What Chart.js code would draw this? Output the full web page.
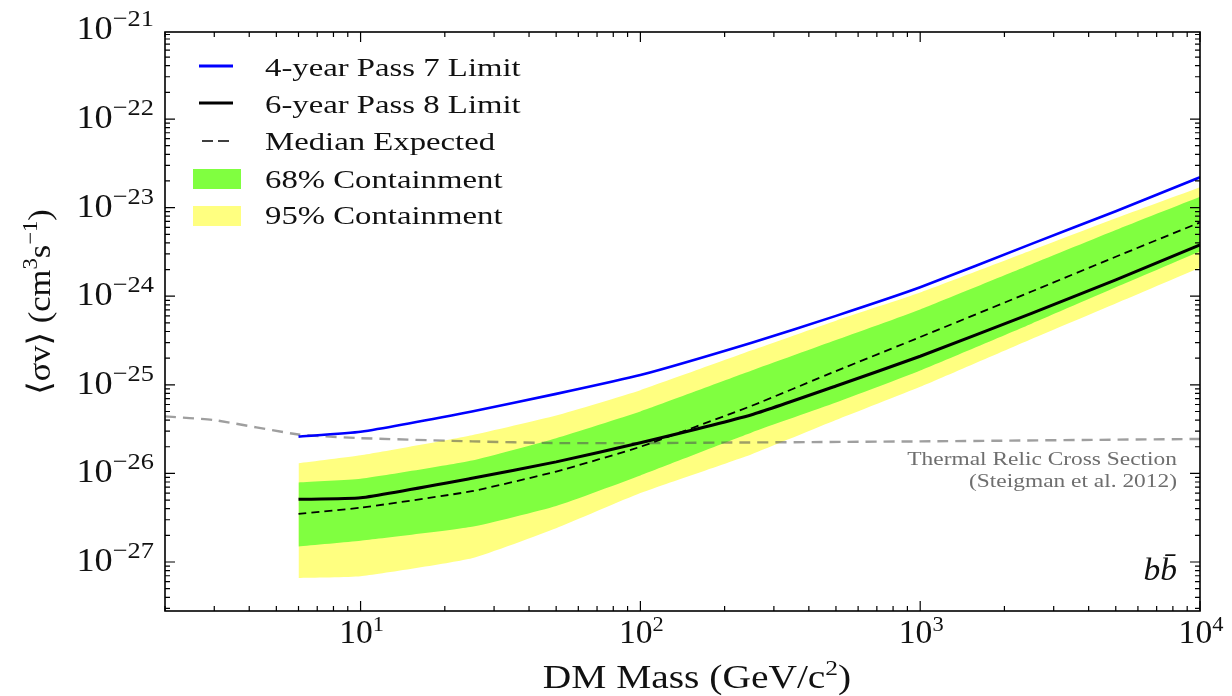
<!DOCTYPE html>
<html>
<head>
<meta charset="utf-8">
<script src="https://cdn.jsdelivr.net/npm/chart.js@4.4.1/dist/chart.umd.min.js"></script>
<style>
  html, body { margin: 0; padding: 0; background: #fff; }
</style>
</head>
<body>
<canvas id="limitChart" width="1232" height="696"></canvas>
<script>
// values (DM mass in GeV, <sigma v> in cm^3 s^-1)
const masses = [6, 10, 25, 50, 100, 250, 500, 1000, 2500, 5000, 10000];
const pass7Limit = [2.6e-26, 2.95e-26, 5.0e-26, 7.9e-26, 1.29e-25, 2.99e-25, 6.0e-25, 1.26e-24, 3.9e-24, 9.1e-24, 2.2e-23];
const pass8Limit = [5.1e-27, 5.3e-27, 8.8e-27, 1.35e-26, 2.22e-26, 4.6e-26, 9.7e-26, 2.1e-25, 6.4e-25, 1.53e-24, 3.8e-24];
const medianExpected = [3.5e-27, 4.1e-27, 6.3e-27, 1.05e-26, 2.0e-26, 5.8e-26, 1.43e-25, 3.46e-25, 1.13e-24, 2.79e-24, 6.8e-24];
const band68High = [7.9e-27, 8.7e-27, 1.4e-26, 2.5e-26, 5.0e-26, 1.45e-25, 3.2e-25, 7.1e-25, 2.3e-24, 5.6e-24, 1.33e-23];
const band68Low = [1.5e-27, 1.74e-27, 2.5e-27, 4.3e-27, 9.5e-27, 2.9e-26, 6.3e-26, 1.45e-25, 4.9e-25, 1.26e-24, 3.2e-24];
const band95High = [1.3e-26, 1.6e-26, 2.7e-26, 4.5e-26, 8.7e-26, 2.45e-25, 5.3e-25, 1.1e-24, 3.3e-24, 7.6e-24, 1.7e-23];
const band95Low = [6.6e-28, 6.9e-28, 1.1e-27, 2.4e-27, 6.0e-27, 1.65e-26, 4.0e-26, 9.5e-26, 3.3e-25, 8.3e-25, 2.1e-24];

const relicMasses = [2, 3, 6, 10, 25, 50, 100, 1000, 10000];
const relicCrossSection = [4.4e-26, 4.0e-26, 2.75e-26, 2.5e-26, 2.3e-26, 2.2e-26, 2.2e-26, 2.3e-26, 2.45e-26];

const xTickExponents = [1, 2, 3, 4];
const yTickExponents = [-21, -22, -23, -24, -25, -26, -27];

const legendLabels = ["4-year Pass 7 Limit", "6-year Pass 8 Limit", "Median Expected", "68% Containment", "95% Containment"];

const SERIF = '"Liberation Serif", "DejaVu Serif", serif';
const GREEN = "#80ff40";
const YELLOW = "#ffff80";

function pts(xs, ys) {
  return xs.map((x, i) => ({ x: x, y: ys[i] }));
}

// draw text made of pieces (for superscripts), with a little horizontal stretch
function drawRich(c, parts, x, y, align, stretch) {
  let w = 0;
  parts.forEach(p => {
    c.font = (p[3] || "") + " " + p[1] + "px " + SERIF;
    w += c.measureText(p[0]).width;
  });
  c.save();
  c.translate(x, y);
  c.scale(stretch || 1, 1);
  c.textAlign = "left";
  c.textBaseline = "alphabetic";
  let cx = align === "right" ? -w : align === "center" ? -w / 2 : 0;
  parts.forEach(p => {
    c.font = (p[3] || "") + " " + p[1] + "px " + SERIF;
    c.fillText(p[0], cx, p[2] || 0);
    cx += c.measureText(p[0]).width;
  });
  c.restore();
}

function logValues(min, max) {
  const out = [];
  for (let e = Math.floor(Math.log10(min)); e <= Math.ceil(Math.log10(max)); e++) {
    for (let m = 1; m < 10; m++) {
      const v = m * Math.pow(10, e);
      if (v >= min * 0.999 && v <= max * 1.001) out.push({ v: v, major: m === 1 });
    }
  }
  return out;
}

const decorPlugin = {
  id: "decor",
  afterDraw(chart) {
    const c = chart.ctx;
    const a = chart.chartArea;
    const xs = chart.scales.x;
    const ys = chart.scales.y;
    c.save();

    // frame
    c.strokeStyle = "#000";
    c.lineWidth = 1.6;
    c.strokeRect(a.left, a.top, a.right - a.left, a.bottom - a.top);

    // inward ticks on all four sides
    c.lineWidth = 1.2;
    c.beginPath();
    logValues(xs.min, xs.max).forEach(t => {
      const px = xs.getPixelForValue(t.v);
      const len = t.major ? 10 : 5;
      c.moveTo(px, a.bottom); c.lineTo(px, a.bottom - len);
      c.moveTo(px, a.top); c.lineTo(px, a.top + len);
    });
    logValues(ys.min, ys.max).forEach(t => {
      const py = ys.getPixelForValue(t.v);
      const len = t.major ? 10 : 5;
      c.moveTo(a.left, py); c.lineTo(a.left + len, py);
      c.moveTo(a.right, py); c.lineTo(a.right - len, py);
    });
    c.stroke();

    // tick labels
    c.fillStyle = "#111";
    xTickExponents.forEach(e => {
      const px = xs.getPixelForValue(Math.pow(10, e));
      drawRich(c, [["10", 33], [String(e), 22, -12]], px + 1, a.bottom + 32, "center", 1.02);
    });
    yTickExponents.forEach(e => {
      const py = ys.getPixelForValue(Math.pow(10, e));
      drawRich(c, [["10", 33], ["\u2212" + String(-e), 24, -13]], 154, py + 9, "right", 1.1);
    });

    // axis titles
    drawRich(c, [["DM Mass (GeV/c", 34], ["2", 22, -13], [")", 34]], 697, 688, "center", 1.16);
    c.save();
    c.translate(50, 302);
    c.rotate(-Math.PI / 2);
    drawRich(c, [["\u27e8\u03c3v\u27e9 (cm", 32], ["3", 21, -13], ["s", 32], ["\u22121", 21, -13], [")", 32]], 0, 0, "center", 1.08);
    c.restore();

    // annotations
    c.fillStyle = "#6e6e6e";
    drawRich(c, [["Thermal Relic Cross Section", 18]], 1177, 465, "right", 1.3);
    drawRich(c, [["(Steigman et al. 2012)", 18]], 1177, 487, "right", 1.3);
    c.fillStyle = "#111";
    drawRich(c, [["bb\u0304", 31, 0, "italic"]], 1177, 580, "right", 1.08);

    // legend
    const rows = [76, 113, 150, 188, 224];
    c.lineCap = "butt";
    c.strokeStyle = "#0000ff"; c.lineWidth = 3; c.setLineDash([]);
    c.beginPath(); c.moveTo(199, 66); c.lineTo(233, 66); c.stroke();
    c.strokeStyle = "#000"; c.lineWidth = 3.2;
    c.beginPath(); c.moveTo(199, 103); c.lineTo(233, 103); c.stroke();
    c.lineWidth = 1.6; c.setLineDash([11, 5]);
    c.beginPath(); c.moveTo(202, 141); c.lineTo(233, 141); c.stroke();
    c.setLineDash([]);
    c.fillStyle = GREEN; c.fillRect(193, 169, 48, 20);
    c.fillStyle = YELLOW; c.fillRect(193, 206, 48, 20);
    c.fillStyle = "#111";
    legendLabels.forEach((t, i) => drawRich(c, [[t, 26]], 265, rows[i], "left", 1.26));

    c.restore();
  }
};

const ctx = document.getElementById("limitChart").getContext("2d");
new Chart(ctx, {
  type: "line",
  data: {
    datasets: [
      { label: "95% high", data: pts(masses, band95High), fill: "+1", backgroundColor: YELLOW, borderColor: "rgba(0,0,0,0)", borderWidth: 0, order: 10 },
      { label: "95% low", data: pts(masses, band95Low), fill: false, borderColor: "rgba(0,0,0,0)", borderWidth: 0, order: 10 },
      { label: "68% high", data: pts(masses, band68High), fill: "+1", backgroundColor: GREEN, borderColor: "rgba(0,0,0,0)", borderWidth: 0, order: 9 },
      { label: "68% low", data: pts(masses, band68Low), fill: false, borderColor: "rgba(0,0,0,0)", borderWidth: 0, order: 9 },
      { label: "Thermal relic", data: pts(relicMasses, relicCrossSection), fill: false, borderColor: "rgba(80,80,80,0.55)", borderWidth: 2.4, borderDash: [11, 7], order: 4 },
      { label: "Median Expected", data: pts(masses, medianExpected), fill: false, borderColor: "#000", borderWidth: 1.8, borderDash: [8, 5], order: 3 },
      { label: "6-year Pass 8 Limit", data: pts(masses, pass8Limit), fill: false, borderColor: "#000", borderWidth: 3, order: 2 },
      { label: "4-year Pass 7 Limit", data: pts(masses, pass7Limit), fill: false, borderColor: "#0000ff", borderWidth: 2.6, order: 1 }
    ]
  },
  options: {
    responsive: false,
    animation: false,
    devicePixelRatio: 1,
    layout: { padding: { top: 32, right: 32, left: 0, bottom: 0 } },
    elements: { point: { radius: 0 }, line: { tension: 0.15 } },
    plugins: {
      legend: { display: false },
      tooltip: { enabled: false }
    },
    scales: {
      x: {
        type: "logarithmic",
        min: 2,
        max: 10000,
        grid: { display: false },
        border: { display: false },
        ticks: { display: false },
        afterFit: s => { s.height = 85; }
      },
      y: {
        type: "logarithmic",
        min: 2.8e-28,
        max: 9.6e-22,
        grid: { display: false },
        border: { display: false },
        ticks: { display: false },
        afterFit: s => { s.width = 165; }
      }
    }
  },
  plugins: [decorPlugin]
});
</script>
</body>
</html>
